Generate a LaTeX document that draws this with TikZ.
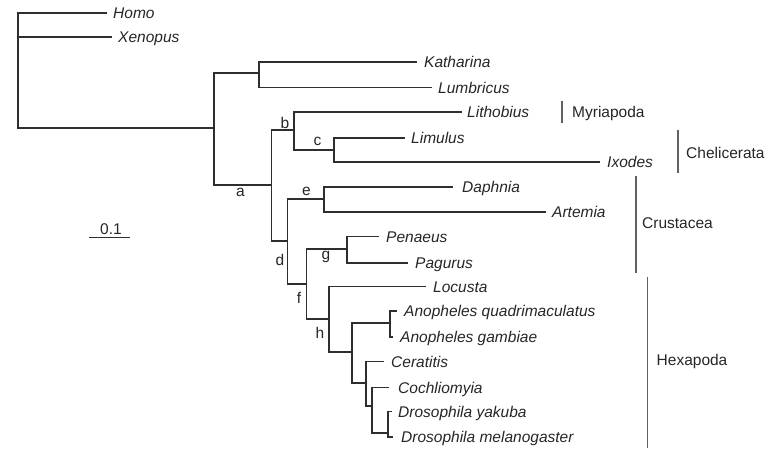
\documentclass[tikz,border=0pt]{standalone}
\usepackage{fontspec}
\setmainfont{Liberation Sans}
\begin{document}
\begin{tikzpicture}[x=1pt,y=-1pt,
  branch/.style={draw=black!82, line width=1.1pt},
  cladebar/.style={draw=black!62, line width=1.6pt},
  leaf/.style={anchor=west, inner sep=0pt, text height=11.1pt, text depth=0pt,
    font=\fontsize{15.5}{18}\selectfont\itshape, text=black!85},
  clade/.style={anchor=west, inner sep=0pt, text height=11.1pt, text depth=0pt,
    font=\fontsize{15.5}{18}\selectfont, text=black!85},
  nlab/.style={anchor=base, inner sep=0pt, font=\fontsize{15.5}{18}\selectfont, text=black!85}]
\useasboundingbox (0,0) rectangle (776,448);
\newcommand{\leafnode}[5]{%
  \coordinate (t-#1) at (#2,#3);
  \node[leaf] (#1) at (#4,#3) {#5};}
% internal nodes
\coordinate (n-root) at (18,70);
\coordinate (n-p) at (214,128);
\coordinate (n-k) at (259,73);
\coordinate (n-a) at (271.5,185);
\coordinate (n-b) at (294,130);
\coordinate (n-c) at (334,150);
\coordinate (n-d) at (287.5,241);
\coordinate (n-e) at (324,199);
\coordinate (n-f) at (306.5,284);
\coordinate (n-g) at (347,249);
\coordinate (n-h) at (329,319);
\coordinate (n-i) at (352,352);
\coordinate (n-an) at (390,323);
\coordinate (n-j) at (366,383);
\coordinate (n-m) at (372,406);
\coordinate (n-dr) at (388,433);
% leaves
\leafnode{homo}{107}{13}{113}{Homo}
\leafnode{xenopus}{112}{37}{118}{Xenopus}
\leafnode{katharina}{416.5}{62}{424}{Katharina}
\leafnode{lumbricus}{431.7}{87.5}{438}{Lumbricus}
\leafnode{lithobius}{462}{112}{467}{Lithobius}
\leafnode{limulus}{405}{138}{411}{Limulus}
\leafnode{ixodes}{600}{162}{607}{Ixodes}
\leafnode{daphnia}{453}{187}{462}{Daphnia}
\leafnode{artemia}{546}{212}{552}{Artemia}
\leafnode{penaeus}{379.3}{236.5}{386}{Penaeus}
\leafnode{pagurus}{408}{263}{415}{Pagurus}
\leafnode{locusta}{425.7}{286.5}{433}{Locusta}
\leafnode{aquad}{396.7}{311}{404}{Anopheles quadrimaculatus}
\leafnode{agamb}{393}{337}{400}{Anopheles gambiae}
\leafnode{ceratitis}{384}{361.5}{391}{Ceratitis}
\leafnode{cochliomyia}{389}{387.5}{398}{Cochliomyia}
\leafnode{dyak}{392}{411.5}{398}{Drosophila yakuba}
\leafnode{dmel}{393}{437}{401}{Drosophila melanogaster}
% branches
\draw[branch] (n-root) |- (t-homo);
\draw[branch] (n-root) |- (t-xenopus);
\draw[branch] (n-root) |- (n-p);
\draw[branch] (n-p) |- (n-k);
\draw[branch] (n-p) |- (n-a);
\draw[branch] (n-k) |- (t-katharina);
\draw[branch] (n-k) |- (t-lumbricus);
\draw[branch] (n-a) |- (n-b);
\draw[branch] (n-a) |- (n-d);
\draw[branch] (n-b) |- (t-lithobius);
\draw[branch] (n-b) |- (n-c);
\draw[branch] (n-c) |- (t-limulus);
\draw[branch] (n-c) |- (t-ixodes);
\draw[branch] (n-d) |- (n-e);
\draw[branch] (n-d) |- (n-f);
\draw[branch] (n-e) |- (t-daphnia);
\draw[branch] (n-e) |- (t-artemia);
\draw[branch] (n-f) |- (n-g);
\draw[branch] (n-f) |- (n-h);
\draw[branch] (n-g) |- (t-penaeus);
\draw[branch] (n-g) |- (t-pagurus);
\draw[branch] (n-h) |- (t-locusta);
\draw[branch] (n-h) |- (n-i);
\draw[branch] (n-i) |- (n-an);
\draw[branch] (n-i) |- (n-j);
\draw[branch] (n-an) |- (t-aquad);
\draw[branch] (n-an) |- (t-agamb);
\draw[branch] (n-j) |- (t-ceratitis);
\draw[branch] (n-j) |- (n-m);
\draw[branch] (n-m) |- (t-cochliomyia);
\draw[branch] (n-m) |- (n-dr);
\draw[branch] (n-dr) |- (t-dyak);
\draw[branch] (n-dr) |- (t-dmel);
% node letters
\node[nlab] (la) at (240.5,196.5) {a};
\node[nlab] (lb) at (285,128) {b};
\node[nlab] (lc) at (317.5,145.5) {c};
\node[nlab] (ld) at (280,265.5) {d};
\node[nlab] (le) at (306.5,195.5) {e};
\node[nlab] (lf) at (299,303) {f};
\node[nlab] (lg) at (326,259.5) {g};
\node[nlab] (lh) at (320,338.5) {h};
% clade bars
\coordinate (myr-top) at (562,101); \coordinate (myr-bot) at (562,123);
\coordinate (che-top) at (678,130); \coordinate (che-bot) at (678,173);
\coordinate (cru-top) at (636,176); \coordinate (cru-bot) at (636,272.5);
\coordinate (hex-top) at (647.5,277); \coordinate (hex-bot) at (647.5,448);
\draw[cladebar] (myr-top) -- (myr-bot);
\draw[cladebar] (che-top) -- (che-bot);
\draw[cladebar] (cru-top) -- (cru-bot);
\draw[cladebar] (hex-top) -- (hex-bot);
\node[clade] (myriapoda) at (572,112) {Myriapoda};
\node[clade] (chelicerata) at (686,152.5) {Chelicerata};
\node[clade] (crustacea) at (642,223) {Crustacea};
\node[clade] (hexapoda) at (656.5,359.5) {Hexapoda};
% scale bar
\coordinate (sb-l) at (89,237.7); \coordinate (sb-r) at (130,237.7);
\draw[branch] (sb-l) -- (sb-r);
\node[nlab] (sblab) at (111,234) {0.1};
\end{tikzpicture}
\end{document}
